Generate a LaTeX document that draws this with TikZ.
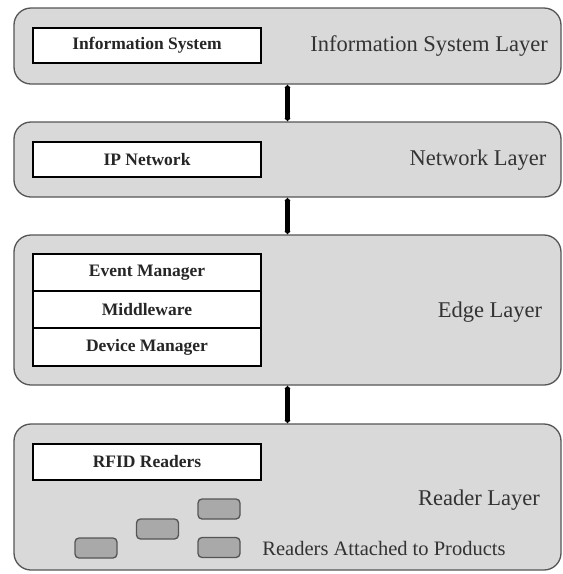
\documentclass[tikz,border=0pt]{standalone}
\usepackage{fontspec}
\setmainfont{Liberation Serif}
\usetikzlibrary{arrows.meta}
\definecolor{layerfill}{HTML}{D9D9D9}
\definecolor{layerdraw}{HTML}{555555}
\definecolor{tagfill}{HTML}{A9A9A9}
\definecolor{labelcol}{HTML}{333333}
\tikzset{
  layer/.style={draw=layerdraw, fill=layerfill, line width=1.3pt, rounded corners=17pt,
    minimum width=547pt, inner sep=0pt},
  inbox/.style={draw=black, fill=white, line width=1.3pt, minimum width=228pt, inner sep=0pt,
    font=\fontsize{17.5}{20}\selectfont\bfseries, text=black!85},
  laylabel/.style={font=\fontsize{22.5}{26}\selectfont, text=labelcol, inner sep=0pt},
  tag/.style={draw=layerdraw, fill=tagfill, line width=1.3pt, rounded corners=4pt,
    minimum width=42pt, minimum height=20pt, inner sep=0pt},
  link/.style={line width=4.5pt, {Latex[length=3pt,width=7pt]}-{Latex[length=3pt,width=7pt]}}
}
\begin{document}
\begin{tikzpicture}[x=1pt,y=-1pt]
\useasboundingbox (0,0) rectangle (563,574);
% layers
\node[layer, minimum height=76pt] (info) at (287.5,46) {};
\node[layer, minimum height=75pt] (net) at (287.5,159.5) {};
\node[layer, minimum height=150pt] (edge) at (287.5,310) {};
\node[layer, minimum height=146pt] (reader) at (287.5,497) {};
% inner boxes
\node[inbox, minimum height=35pt] (is) at (147,45.5) {Information System};
\node[inbox, minimum height=35pt] (ip) at (147,159.5) {IP Network};
\node[inbox, minimum height=37pt] (em) at (147,272.5) {Event Manager};
\node[inbox, minimum height=37pt] (mw) at (147,309.5) {Middleware};
\node[inbox, minimum height=38pt] (dm) at (147,347) {Device Manager};
\node[inbox, minimum height=36pt] (rfid) at (147,462) {RFID Readers};
% labels
\node[laylabel] (l1) at (429,46) {Information System Layer};
\node[laylabel] (l2) at (478,160) {Network Layer};
\node[laylabel] (l3) at (490,312) {Edge Layer};
\node[laylabel] (l4) at (479,500) {Reader Layer};
\node[laylabel, font=\fontsize{20.5}{24}\selectfont] (l5) at (384,548) {Readers Attached to Products};
% tags
\node[tag] (t1) at (96,548) {};
\node[tag] (t2) at (157.5,529) {};
\node[tag] (t3) at (219,509) {};
\node[tag] (t4) at (219,547.5) {};
% connectors
\draw[link] (info.south) -- (net.north);
\draw[link] (net.south) -- (edge.north);
\draw[link] (edge.south) -- (reader.north);
\end{tikzpicture}
\end{document}
